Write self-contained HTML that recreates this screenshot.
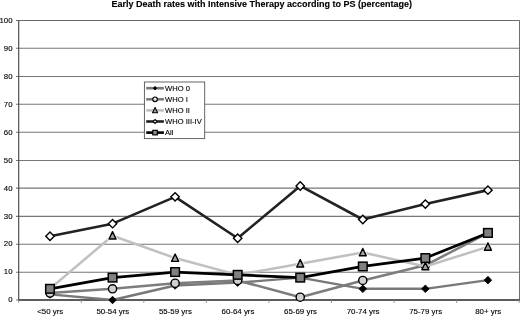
<!DOCTYPE html><html><head><meta charset="utf-8"><style>html,body{margin:0;padding:0;background:#fff}svg{display:block}text{font-family:"Liberation Sans",sans-serif;fill:#000;stroke:#000;stroke-width:0.12px}</style></head><body>
<svg width="520" height="316" viewBox="0 0 520 316">
<rect width="520" height="316" fill="#fff"/>
<line x1="16.0" y1="300.0" x2="519.5" y2="300.0" stroke="#767676" stroke-width="1.05"/>
<line x1="16.0" y1="272.18" x2="519.5" y2="272.18" stroke="#767676" stroke-width="1.05"/>
<line x1="16.0" y1="244.15" x2="519.5" y2="244.15" stroke="#767676" stroke-width="1.05"/>
<line x1="16.0" y1="216.35" x2="519.5" y2="216.35" stroke="#767676" stroke-width="1.05"/>
<line x1="16.0" y1="188.14" x2="519.5" y2="188.14" stroke="#767676" stroke-width="1.05"/>
<line x1="16.0" y1="160.42" x2="519.5" y2="160.42" stroke="#767676" stroke-width="1.05"/>
<line x1="16.0" y1="132.3" x2="519.5" y2="132.3" stroke="#767676" stroke-width="1.05"/>
<line x1="16.0" y1="104.2" x2="519.5" y2="104.2" stroke="#767676" stroke-width="1.05"/>
<line x1="16.0" y1="76.43" x2="519.5" y2="76.43" stroke="#767676" stroke-width="1.05"/>
<line x1="16.0" y1="48.32" x2="519.5" y2="48.32" stroke="#767676" stroke-width="1.05"/>
<line x1="16.0" y1="20.46" x2="519.5" y2="20.46" stroke="#6a6a6a" stroke-width="1.05"/>
<line x1="18.7" y1="20.45" x2="18.7" y2="300.0" stroke="#484848" stroke-width="1.15"/>
<line x1="519.5" y1="20.45" x2="519.5" y2="300.0" stroke="#707070" stroke-width="1"/>
<line x1="18.7" y1="300.0" x2="520.0" y2="300.0" stroke="#3c3c3c" stroke-width="1.3"/>
<line x1="18.7" y1="300.0" x2="18.7" y2="302.8" stroke="#8a8a8a" stroke-width="1"/>
<line x1="81.2625" y1="300.0" x2="81.2625" y2="302.8" stroke="#8a8a8a" stroke-width="1"/>
<line x1="143.82500000000002" y1="300.0" x2="143.82500000000002" y2="302.8" stroke="#8a8a8a" stroke-width="1"/>
<line x1="206.38750000000002" y1="300.0" x2="206.38750000000002" y2="302.8" stroke="#8a8a8a" stroke-width="1"/>
<line x1="268.95000000000005" y1="300.0" x2="268.95000000000005" y2="302.8" stroke="#8a8a8a" stroke-width="1"/>
<line x1="331.51250000000005" y1="300.0" x2="331.51250000000005" y2="302.8" stroke="#8a8a8a" stroke-width="1"/>
<line x1="394.07500000000005" y1="300.0" x2="394.07500000000005" y2="302.8" stroke="#8a8a8a" stroke-width="1"/>
<line x1="456.63750000000005" y1="300.0" x2="456.63750000000005" y2="302.8" stroke="#8a8a8a" stroke-width="1"/>
<line x1="519.2" y1="300.0" x2="519.2" y2="302.8" stroke="#8a8a8a" stroke-width="1"/>
<text x="12.5" y="302.4" font-size="7.8" text-anchor="end">0</text>
<text x="12.5" y="274.445" font-size="7.8" text-anchor="end">10</text>
<text x="12.5" y="246.49" font-size="7.8" text-anchor="end">20</text>
<text x="12.5" y="218.535" font-size="7.8" text-anchor="end">30</text>
<text x="12.5" y="190.58" font-size="7.8" text-anchor="end">40</text>
<text x="12.5" y="162.625" font-size="7.8" text-anchor="end">50</text>
<text x="12.5" y="134.67000000000002" font-size="7.8" text-anchor="end">60</text>
<text x="12.5" y="106.715" font-size="7.8" text-anchor="end">70</text>
<text x="12.5" y="78.76000000000002" font-size="7.8" text-anchor="end">80</text>
<text x="12.5" y="50.805" font-size="7.8" text-anchor="end">90</text>
<text x="12.5" y="22.849999999999987" font-size="7.8" text-anchor="end">100</text>
<text x="50.28125" y="314" font-size="7.9" text-anchor="middle">&lt;50 yrs</text>
<text x="112.84375000000001" y="314" font-size="7.9" text-anchor="middle">50-54 yrs</text>
<text x="175.40625000000003" y="314" font-size="7.9" text-anchor="middle">55-59 yrs</text>
<text x="237.96875000000003" y="314" font-size="7.9" text-anchor="middle">60-64 yrs</text>
<text x="300.53125000000006" y="314" font-size="7.9" text-anchor="middle">65-69 yrs</text>
<text x="363.09375000000006" y="314" font-size="7.9" text-anchor="middle">70-74 yrs</text>
<text x="425.65625000000006" y="314" font-size="7.9" text-anchor="middle">75-79 yrs</text>
<text x="488.21875000000006" y="314" font-size="7.9" text-anchor="middle">80+ yrs</text>
<text x="261.8" y="6.6" font-size="9" font-weight="bold" text-anchor="middle">Early Death rates with Intensive Therapy according to PS (percentage)</text>
<polyline points="49.98,294.41 112.54,300.00 175.11,285.46 237.67,282.67 300.23,277.64 362.79,288.82 425.36,288.82 487.92,280.15" fill="none" stroke="#787878" stroke-width="2.4" stroke-linejoin="round"/>
<polygon points="49.98,290.61 53.779999999999994,294.41 49.98,298.21000000000004 46.18,294.41" fill="#000" stroke="#000" stroke-width="0.8"/>
<polygon points="112.54,296.2 116.34,300.0 112.54,303.8 108.74000000000001,300.0" fill="#000" stroke="#000" stroke-width="0.8"/>
<polygon points="175.11,281.65999999999997 178.91000000000003,285.46 175.11,289.26 171.31,285.46" fill="#000" stroke="#000" stroke-width="0.8"/>
<polygon points="237.67,278.87 241.47,282.67 237.67,286.47 233.86999999999998,282.67" fill="#000" stroke="#000" stroke-width="0.8"/>
<polygon points="300.23,273.84 304.03000000000003,277.64 300.23,281.44 296.43,277.64" fill="#000" stroke="#000" stroke-width="0.8"/>
<polygon points="362.79,285.02 366.59000000000003,288.82 362.79,292.62 358.99,288.82" fill="#000" stroke="#000" stroke-width="0.8"/>
<polygon points="425.36,285.02 429.16,288.82 425.36,292.62 421.56,288.82" fill="#000" stroke="#000" stroke-width="0.8"/>
<polygon points="487.92,276.34999999999997 491.72,280.15 487.92,283.95 484.12,280.15" fill="#000" stroke="#000" stroke-width="0.8"/>
<polyline points="49.98,293.01 112.54,288.82 175.11,283.23 237.67,280.43 300.23,297.20 362.79,280.43 425.36,265.34 487.92,232.91" fill="none" stroke="#7c7c7c" stroke-width="2.5" stroke-linejoin="round"/>
<circle cx="49.98" cy="293.01" r="4.1" fill="#d0d0d0" stroke="#000" stroke-width="1.4"/>
<circle cx="112.54" cy="288.82" r="4.1" fill="#d0d0d0" stroke="#000" stroke-width="1.4"/>
<circle cx="175.11" cy="283.23" r="4.1" fill="#d0d0d0" stroke="#000" stroke-width="1.4"/>
<circle cx="237.67" cy="280.43" r="4.1" fill="#d0d0d0" stroke="#000" stroke-width="1.4"/>
<circle cx="300.23" cy="297.2" r="4.1" fill="#d0d0d0" stroke="#000" stroke-width="1.4"/>
<circle cx="362.79" cy="280.43" r="4.1" fill="#d0d0d0" stroke="#000" stroke-width="1.4"/>
<circle cx="425.36" cy="265.34" r="4.1" fill="#d0d0d0" stroke="#000" stroke-width="1.4"/>
<circle cx="487.92" cy="232.91" r="4.1" fill="#d0d0d0" stroke="#000" stroke-width="1.4"/>
<polyline points="49.98,288.82 112.54,235.70 175.11,258.07 237.67,274.84 300.23,263.66 362.79,252.48 425.36,266.45 487.92,246.89" fill="none" stroke="#c0c0c0" stroke-width="2.5" stroke-linejoin="round"/>
<polygon points="49.98,284.8 53.48,292.14 46.48,292.14" fill="#a2a2a2" stroke="#000" stroke-width="1.4" stroke-linejoin="round"/>
<polygon points="112.54,231.67 116.04,239.02 109.04,239.02" fill="none" stroke="#fff" stroke-width="3.2" stroke-opacity="0.7"/><polygon points="112.54,231.67 116.04,239.02 109.04,239.02" fill="#a2a2a2" stroke="#000" stroke-width="1.4" stroke-linejoin="round"/>
<polygon points="175.11,254.04 178.61,261.39 171.61,261.39" fill="none" stroke="#fff" stroke-width="3.2" stroke-opacity="0.7"/><polygon points="175.11,254.04 178.61,261.39 171.61,261.39" fill="#a2a2a2" stroke="#000" stroke-width="1.4" stroke-linejoin="round"/>
<polygon points="237.67,270.81 241.17,278.16 234.17,278.16" fill="none" stroke="#fff" stroke-width="3.2" stroke-opacity="0.7"/><polygon points="237.67,270.81 241.17,278.16 234.17,278.16" fill="#a2a2a2" stroke="#000" stroke-width="1.4" stroke-linejoin="round"/>
<polygon points="300.23,259.64 303.73,266.99 296.73,266.99" fill="none" stroke="#fff" stroke-width="3.2" stroke-opacity="0.7"/><polygon points="300.23,259.64 303.73,266.99 296.73,266.99" fill="#a2a2a2" stroke="#000" stroke-width="1.4" stroke-linejoin="round"/>
<polygon points="362.79,248.45 366.29,255.8 359.29,255.8" fill="none" stroke="#fff" stroke-width="3.2" stroke-opacity="0.7"/><polygon points="362.79,248.45 366.29,255.8 359.29,255.8" fill="#a2a2a2" stroke="#000" stroke-width="1.4" stroke-linejoin="round"/>
<polygon points="425.36,262.43 428.86,269.77 421.86,269.77" fill="#a2a2a2" stroke="#000" stroke-width="1.4" stroke-linejoin="round"/>
<polygon points="487.92,242.86 491.42,250.21 484.42,250.21" fill="none" stroke="#fff" stroke-width="3.2" stroke-opacity="0.7"/><polygon points="487.92,242.86 491.42,250.21 484.42,250.21" fill="#a2a2a2" stroke="#000" stroke-width="1.4" stroke-linejoin="round"/>
<polyline points="49.98,236.26 112.54,223.68 175.11,196.85 237.67,238.22 300.23,185.94 362.79,219.49 425.36,204.11 487.92,190.14" fill="none" stroke="#222" stroke-width="2.6" stroke-linejoin="round"/>
<polygon points="49.98,232.06 54.18,236.26 49.98,240.45999999999998 45.779999999999994,236.26" fill="#fff" stroke="#000" stroke-width="1.4"/>
<polygon points="112.54,219.48000000000002 116.74000000000001,223.68 112.54,227.88 108.34,223.68" fill="#fff" stroke="#000" stroke-width="1.4"/>
<polygon points="175.11,192.65 179.31,196.85 175.11,201.04999999999998 170.91000000000003,196.85" fill="#fff" stroke="#000" stroke-width="1.4"/>
<polygon points="237.67,234.02 241.86999999999998,238.22 237.67,242.42 233.47,238.22" fill="#fff" stroke="#000" stroke-width="1.4"/>
<polygon points="300.23,181.74 304.43,185.94 300.23,190.14 296.03000000000003,185.94" fill="#fff" stroke="#000" stroke-width="1.4"/>
<polygon points="362.79,215.29000000000002 366.99,219.49 362.79,223.69 358.59000000000003,219.49" fill="#fff" stroke="#000" stroke-width="1.4"/>
<polygon points="425.36,199.91000000000003 429.56,204.11 425.36,208.31 421.16,204.11" fill="#fff" stroke="#000" stroke-width="1.4"/>
<polygon points="487.92,185.94 492.12,190.14 487.92,194.33999999999997 483.72,190.14" fill="#fff" stroke="#000" stroke-width="1.4"/>
<polyline points="49.98,288.82 112.54,277.64 175.11,272.05 237.67,274.84 300.23,277.64 362.79,266.45 425.36,258.07 487.92,232.91" fill="none" stroke="#000" stroke-width="2.7" stroke-linejoin="round"/>
<rect x="45.68" y="284.52" width="8.6" height="8.6" fill="#808080" stroke="#000" stroke-width="1.5"/>
<rect x="108.24000000000001" y="273.34" width="8.6" height="8.6" fill="#808080" stroke="#000" stroke-width="1.5"/>
<rect x="170.81" y="267.75" width="8.6" height="8.6" fill="#808080" stroke="#000" stroke-width="1.5"/>
<rect x="233.36999999999998" y="270.53999999999996" width="8.6" height="8.6" fill="#808080" stroke="#000" stroke-width="1.5"/>
<rect x="295.93" y="273.34" width="8.6" height="8.6" fill="#808080" stroke="#000" stroke-width="1.5"/>
<rect x="358.49" y="262.15" width="8.6" height="8.6" fill="#808080" stroke="#000" stroke-width="1.5"/>
<rect x="421.06" y="253.76999999999998" width="8.6" height="8.6" fill="#808080" stroke="#000" stroke-width="1.5"/>
<rect x="483.62" y="228.60999999999999" width="8.6" height="8.6" fill="#808080" stroke="#000" stroke-width="1.5"/>
<rect x="144.4" y="82.0" width="60.3" height="56.6" fill="#fff" stroke="#555" stroke-width="0.9"/>
<line x1="146.2" y1="88.2" x2="163.9" y2="88.2" stroke="#787878" stroke-width="2.6"/>
<polygon points="155.05,86.5 156.75,88.2 155.05,89.9 153.35000000000002,88.2" fill="#000" stroke="#000" stroke-width="1"/>
<text x="165" y="91.0" font-size="7.6">WHO 0</text>
<line x1="146.2" y1="99.3" x2="163.9" y2="99.3" stroke="#7c7c7c" stroke-width="2.6"/>
<circle cx="155.05" cy="99.3" r="2.3" fill="#e8e8e8" stroke="#000" stroke-width="1.2"/>
<text x="165" y="102.1" font-size="7.6">WHO I</text>
<line x1="146.2" y1="110.4" x2="163.9" y2="110.4" stroke="#c0c0c0" stroke-width="2.6"/>
<polygon points="155.05,107.43 157.55,112.68 152.55,112.68" fill="#aaa" stroke="#000" stroke-width="1.1" stroke-linejoin="round"/>
<text x="165" y="113.2" font-size="7.6">WHO II</text>
<line x1="146.2" y1="121.5" x2="163.9" y2="121.5" stroke="#222" stroke-width="2.6"/>
<polygon points="155.05,119.5 157.05,121.5 155.05,123.5 153.05,121.5" fill="#fff" stroke="#000" stroke-width="1.1"/>
<text x="165" y="124.3" font-size="7.6">WHO III-IV</text>
<line x1="146.2" y1="132.6" x2="163.9" y2="132.6" stroke="#000" stroke-width="2.6"/>
<rect x="152.8" y="130.35" width="4.5" height="4.5" fill="#909090" stroke="#000" stroke-width="1.2"/>
<text x="165" y="135.4" font-size="7.6">All</text>
</svg></body></html>
